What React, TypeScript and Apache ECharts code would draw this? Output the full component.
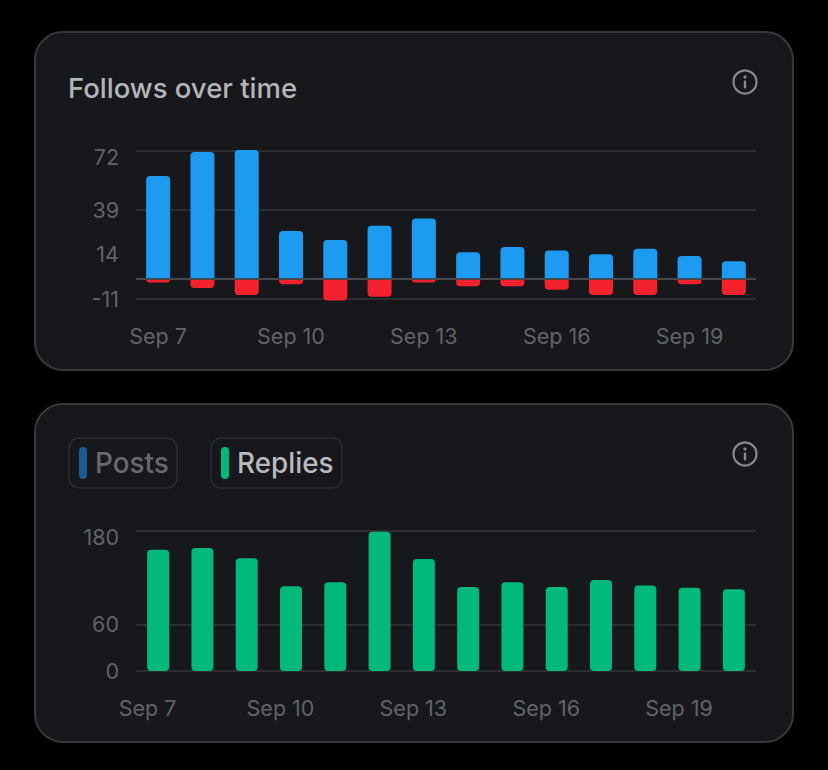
import { useEffect, useRef } from 'react'
import * as echarts from 'echarts'

const days = ['Sep 7', 'Sep 8', 'Sep 9', 'Sep 10', 'Sep 11', 'Sep 12', 'Sep 13', 'Sep 14', 'Sep 15', 'Sep 16', 'Sep 17', 'Sep 18', 'Sep 19', 'Sep 20']
const follows = [58, 71.5, 72.5, 27, 22, 30, 34, 15, 18, 16, 14, 17, 13, 10]
const unfollows = [-2, -5, -9, -3, -12, -10, -2, -4, -4, -6, -9, -9, -3, -9]
const replies = [156, 158, 145, 109, 114, 179, 144, 108, 114, 108, 117, 110, 107, 105]

const followLabels = [-11, 14, 39, 72]
const followLines = [-11, 0, 39, 72]
const replyTicks = [0, 60, 180]

const FONT = 'Inter'
const GRID_LINE = '#2d2e32'
const ZERO_LINE = '#47484c'
const AXIS_TEXT = '#626367'

function card(y: number, height: number) {
  return {
    type: 'rect',
    z: -10,
    silent: true,
    shape: { x: 35, y, width: 758, height, r: 28 },
    style: { fill: '#17181c', stroke: '#37383c', lineWidth: 2 },
  }
}

function infoIcon(cx: number, cy: number) {
  const color = '#88898d'
  return [
    { type: 'circle', z: -5, silent: true, shape: { cx, cy, r: 11.5 }, style: { fill: 'none', stroke: color, lineWidth: 2.2 } },
    { type: 'circle', z: -5, silent: true, shape: { cx, cy: cy - 5, r: 1.6 }, style: { fill: color } },
    { type: 'rect', z: -5, silent: true, shape: { x: cx - 1.2, y: cy - 1.5, width: 2.4, height: 8, r: 1 }, style: { fill: color } },
  ]
}

function chip(x: number, width: number, mark: string, label: string, textColor: string) {
  return [
    {
      type: 'rect',
      z: -5,
      silent: true,
      shape: { x, y: 438, width, height: 50, r: 10 },
      style: { fill: '#17181c', stroke: '#2b2c30', lineWidth: 1.5 },
    },
    { type: 'rect', z: -5, silent: true, shape: { x: x + 10, y: 447, width: 8, height: 32, r: 4 }, style: { fill: mark } },
    {
      type: 'text',
      z: -5,
      silent: true,
      style: {
        x: x + 26,
        y: 463,
        text: label,
        fill: textColor,
        font: `500 27.8px ${FONT}`,
        verticalAlign: 'middle',
      },
    },
  ]
}

function xAxisFor(gridIndex: number, padding: number[]) {
  return {
    type: 'category',
    gridIndex,
    data: days,
    axisLine: { show: false },
    axisTick: { show: false },
    axisLabel: {
      interval: 2,
      margin: 26,
      color: AXIS_TEXT,
      fontFamily: FONT,
      fontSize: 21.5,
      padding,
    },
  }
}

function yAxisFor(gridIndex: number, min: number, max: number, lines: number[], labels: number[]) {
  return {
    type: 'value',
    gridIndex,
    min,
    max,
    axisLine: { show: false },
    axisTick: { show: false, customValues: lines },
    splitLine: { show: true, lineStyle: { color: GRID_LINE, width: 2 } },
    axisLabel: {
      customValues: labels,
      margin: 17,
      color: AXIS_TEXT,
      fontFamily: FONT,
      fontSize: 21.5,
      lineHeight: 12,
      verticalAlignMaxLabel: 'top',
    },
  }
}

export default function App() {
  const chartRef = useRef<HTMLDivElement | null>(null)

  useEffect(() => {
    if (!chartRef.current) {
      return undefined
    }

    const chart = echarts.init(chartRef.current, undefined, { renderer: 'svg' })

    chart.setOption({
      animation: false,
      backgroundColor: '#000000',
      grid: [
        { left: 136, width: 620, top: 151, height: 147.6 },
        { left: 136, width: 620, top: 531, height: 140 },
      ],
      xAxis: [xAxisFor(0, [0, 0, 0, 0]), xAxisFor(1, [0, 21, 0, 0])],
      yAxis: [
        yAxisFor(0, -11, 72, followLines, followLabels),
        yAxisFor(1, 0, 180, replyTicks, replyTicks),
      ],
      graphic: {
        elements: [
          card(32, 338),
          card(404, 338),
          {
            type: 'text',
            z: -5,
            silent: true,
            style: {
              x: 68,
              y: 88,
              text: 'Follows over time',
              fill: '#b4b5b9',
              font: `500 27.5px ${FONT}`,
              verticalAlign: 'middle',
            },
          },
          ...infoIcon(745, 82),
          ...infoIcon(745, 454),
          ...chip(69, 108, '#1a5c92', 'Posts', '#68696d'),
          ...chip(211, 131, '#00b97a', 'Replies', '#b9babe'),
        ],
      },
      series: [
        {
          name: 'Follows',
          type: 'bar',
          xAxisIndex: 0,
          yAxisIndex: 0,
          stack: 'follows',
          barWidth: 24,
          clip: false,
          data: follows,
          itemStyle: { color: '#1d9bf0', borderRadius: [4, 4, 0, 0] },
        },
        {
          name: 'Unfollows',
          type: 'bar',
          xAxisIndex: 0,
          yAxisIndex: 0,
          stack: 'follows',
          barWidth: 24,
          clip: false,
          data: unfollows,
          itemStyle: { color: '#f4212e', borderRadius: [0, 0, 4, 4] },
          markLine: {
            silent: true,
            symbol: 'none',
            label: { show: false },
            lineStyle: { color: ZERO_LINE, type: 'solid', width: 2 },
            data: [{ yAxis: 0 }],
          },
        },
        {
          name: 'Replies',
          type: 'bar',
          xAxisIndex: 1,
          yAxisIndex: 1,
          barWidth: 22,
          clip: false,
          data: replies,
          itemStyle: { color: '#00b97a', borderRadius: 4 },
        },
      ],
    })

    return () => {
      chart.dispose()
    }
  }, [])

  return (
    <div
      ref={chartRef}
      style={{ position: 'fixed', left: 0, top: 0, width: 828, height: 770 }}
    />
  )
}
